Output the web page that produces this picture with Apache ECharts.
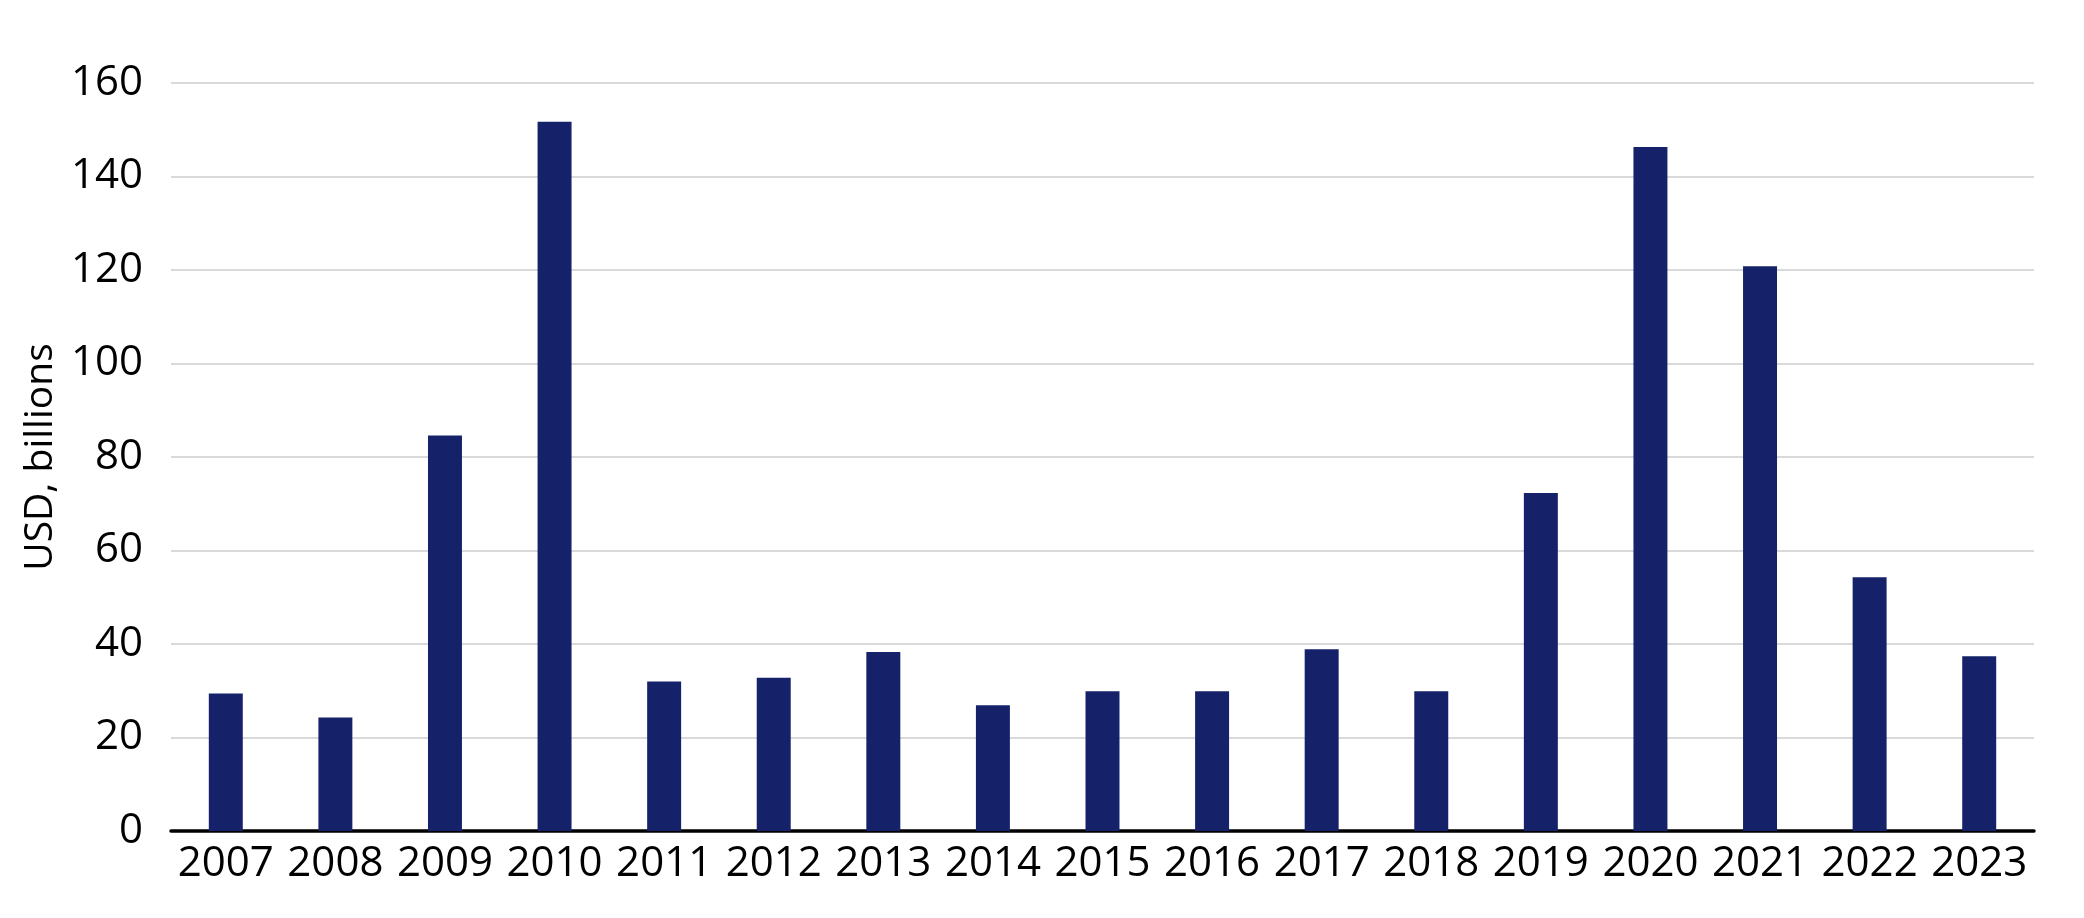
<!DOCTYPE html>
<html>
<head>
<meta charset="utf-8">
<script src="https://cdn.jsdelivr.net/npm/echarts@6/dist/echarts.min.js"></script>
<style>
html,body{margin:0;padding:0;background:#fff;}
#chart{width:2084px;height:918px;}
</style>
</head>
<body>
<div id="chart"></div>
<script>
const categories = ['2007','2008','2009','2010','2011','2012','2013','2014','2015','2016','2017','2018','2019','2020','2021','2022','2023'];
const values = [29.4, 24.3, 84.6, 151.7, 32.0, 32.8, 38.3, 26.9, 29.9, 29.9, 38.9, 29.9, 72.3, 146.3, 120.8, 54.3, 37.4];
const yTicks = [0, 20, 40, 60, 80, 100, 120, 140, 160];
const yAxisTitle = 'USD, billions';

const chart = echarts.init(document.getElementById('chart'));
const font = '"Open Sans", "Noto Sans", sans-serif';
chart.setOption({
  animation: false,
  backgroundColor: '#ffffff',
  grid: { left: 171, right: 50, top: 83, bottom: 87, containLabel: false },
  xAxis: {
    type: 'category',
    data: categories,
    axisLine: { show: true, lineStyle: { color: '#000000', width: 3.5 } },
    axisTick: { show: false },
    axisLabel: { color: '#000000', fontFamily: font, fontSize: 42, margin: 12, interval: 0, hideOverlap: false }
  },
  yAxis: {
    type: 'value',
    min: yTicks[0],
    max: yTicks[yTicks.length - 1],
    interval: 20,
    name: yAxisTitle,
    nameLocation: 'middle',
    nameGap: 104,
    nameTextStyle: { color: '#000000', fontFamily: font, fontSize: 39 },
    axisLine: { show: false },
    axisTick: { show: false },
    axisLabel: { color: '#000000', fontFamily: font, fontSize: 42, margin: 28 },
    splitLine: { show: true, lineStyle: { color: '#d9d9d9', width: 2 } }
  },
  series: [{
    type: 'bar',
    data: values,
    barWidth: '31%',
    itemStyle: { color: '#152269' }
  }]
});
</script>
</body>
</html>
